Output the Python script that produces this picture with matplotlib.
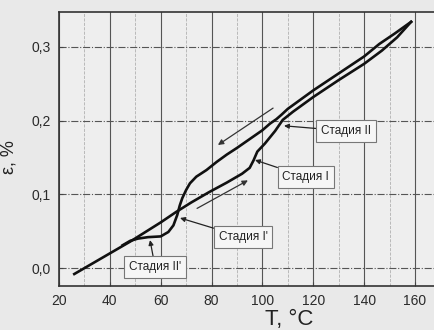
import numpy as np
import matplotlib.pyplot as plt
from matplotlib.ticker import FuncFormatter, MultipleLocator

# нагрев (нижняя ветвь) и охлаждение (верхняя ветвь)
heat_T = [26, 30, 36, 42, 48, 54, 60, 66, 72, 79, 86, 92, 95, 96.5, 98, 101, 105,
          108, 112, 120, 130, 140, 147, 153, 158.5]
heat_eps = [-0.008, 0.000, 0.012, 0.024, 0.036, 0.049, 0.062, 0.076, 0.089, 0.103,
            0.116, 0.128, 0.136, 0.146, 0.158, 0.169, 0.186, 0.201, 0.212, 0.232,
            0.255, 0.277, 0.295, 0.313, 0.334]

cool_T = [158.5, 152, 146, 140, 130, 120, 114, 110, 107.5, 105.5, 103, 100, 95, 90,
          86, 82, 78, 74, 71.5, 70, 68.5, 67.5, 66.5, 65, 63, 60, 55, 51, 48, 45]
cool_eps = [0.334, 0.318, 0.304, 0.287, 0.264, 0.241, 0.226, 0.216, 0.208, 0.202,
            0.196, 0.187, 0.175, 0.163, 0.154, 0.144, 0.133, 0.124, 0.115, 0.106,
            0.095, 0.085, 0.072, 0.058, 0.049, 0.043, 0.042, 0.040, 0.037, 0.031]

# подписи стадий: текст, центр подписи, конец стрелки
stages = ["Стадия II", "Стадия I", "Стадия I'", "Стадия II'"]
stage_text_T = [132.9, 117.1, 92.4, 57.8]
stage_text_eps = [0.186, 0.1235, 0.042, 0.0014]
stage_head_T = [108.5, 97.1, 67.6, 55.8]
stage_head_eps = [0.193, 0.1466, 0.068, 0.038]

# стрелки направления (охлаждение / нагрев)
dir_start_T = [104.2, 74.3]
dir_start_eps = [0.217, 0.081]
dir_end_T = [82.5, 94.3]
dir_end_eps = [0.167, 0.119]

plt.rcParams['font.family'] = ['Liberation Sans', 'DejaVu Sans']

fig = plt.figure(figsize=(4.34, 3.30), dpi=100, facecolor='#e9e9e9')
ax = fig.add_axes([0.136, 0.133, 0.864, 0.831], facecolor='#eeeeee')

ax.plot(heat_T, heat_eps, color='#111111', lw=1.9, solid_joinstyle='round')
ax.plot(cool_T, cool_eps, color='#111111', lw=1.9, solid_joinstyle='round')

for i in range(len(dir_start_T)):
    ax.annotate("", xy=(dir_end_T[i], dir_end_eps[i]),
                xytext=(dir_start_T[i], dir_start_eps[i]),
                arrowprops=dict(arrowstyle='-|>', color='#333333', lw=0.9,
                                mutation_scale=8, shrinkA=0, shrinkB=0))

for i in range(len(stages)):
    ax.annotate(stages[i], xy=(stage_head_T[i], stage_head_eps[i]),
                xytext=(stage_text_T[i], stage_text_eps[i]),
                ha='center', va='center', fontsize=8.5, color='#222222',
                bbox=dict(boxstyle='square,pad=0.4', fc='#f6f6f6', ec='#777777', lw=0.8),
                arrowprops=dict(arrowstyle='-|>', color='#222222', lw=0.9,
                                mutation_scale=7, shrinkA=0, shrinkB=0))

ax.set_xlim(20, 167.5)
ax.set_ylim(-0.0244, 0.3475)
ax.xaxis.set_major_locator(MultipleLocator(20))
ax.xaxis.set_minor_locator(MultipleLocator(10))
ax.yaxis.set_major_locator(MultipleLocator(0.1))
ax.yaxis.set_major_formatter(FuncFormatter(lambda v, p: f"{v:.1f}".replace('.', ',').replace('-0,0', '0,0')))

ax.grid(axis='x', which='major', color='#555555', lw=0.8)
ax.grid(axis='y', which='major', color='#555555', lw=0.8, ls='-.')
ax.grid(axis='x', which='minor', color='#b0b0b0', lw=0.6, ls='--')
ax.set_axisbelow(True)

ax.tick_params(which='both', direction='in', length=3, color='#444444')
ax.tick_params(which='minor', length=0)
ax.tick_params(labelsize=10, labelcolor='#2a2a2a', pad=6)

for s in ['left', 'bottom', 'top']:
    ax.spines[s].set_color('#333333')
    ax.spines[s].set_linewidth(1.2)
ax.spines['right'].set_visible(False)

ax.set_xlabel("T, °C", fontsize=16, color='#222222')
ax.set_ylabel("ε, %", fontsize=13, color='#222222')
ax.xaxis.set_label_coords(0.615, -0.085)
ax.yaxis.set_label_coords(-0.11, 0.47)

fig.savefig("out.png", dpi=100, facecolor=fig.get_facecolor())
